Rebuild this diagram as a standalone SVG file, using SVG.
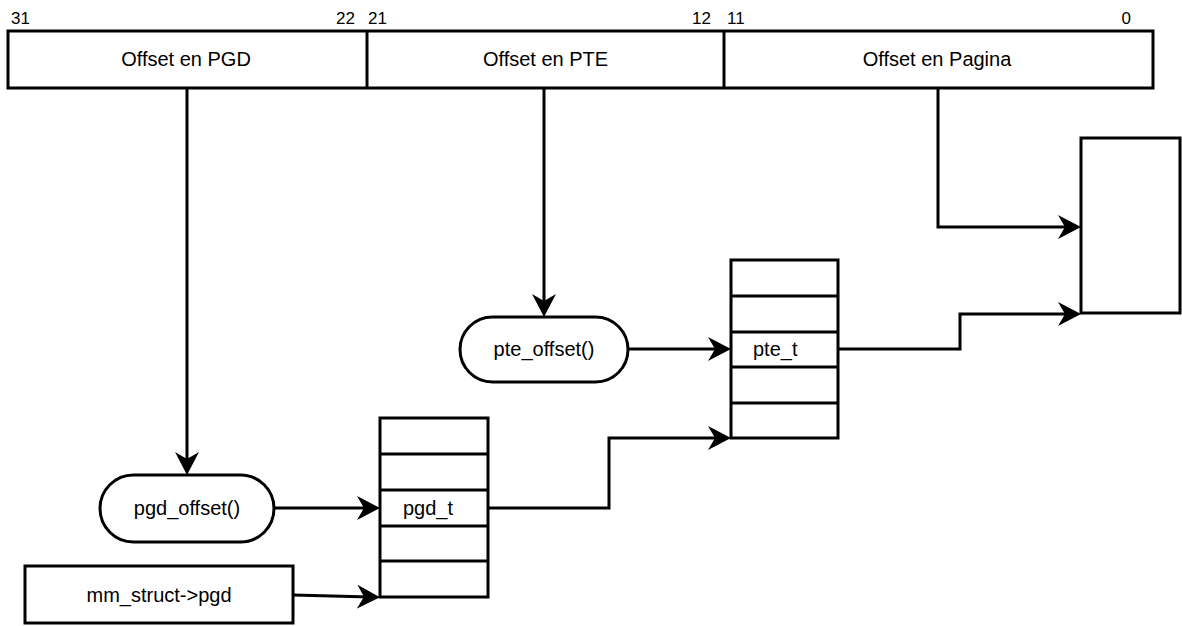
<svg xmlns="http://www.w3.org/2000/svg" width="1182" height="626" viewBox="0 0 1182 626">
  <style>
    .box { fill: #ffffff; stroke: #000000; stroke-width: 3; }
    .sep { fill: none; stroke: #000000; stroke-width: 3; }
    .wire { fill: none; stroke: #000000; stroke-width: 3; }
    .lbl { font-family: "Liberation Sans", Arial, sans-serif; font-size: 20px; fill: #000000; }
    .bit { font-family: "Liberation Sans", Arial, sans-serif; font-size: 17px; fill: #000000; }
  </style>
  <defs>
    <marker id="arrow" viewBox="0 0 23 24" refX="13" refY="12" markerWidth="23" markerHeight="24" markerUnits="userSpaceOnUse" orient="auto">
      <path d="M0,0 L23,12 L0,24 L7,12 Z" fill="#000000"/>
    </marker>
  </defs>

  <rect width="1182" height="626" fill="#ffffff"/>

  <!-- linear address split into three fields -->
  <g id="address">
    <rect class="box" x="8" y="31" width="1145" height="57"/>
    <line class="sep" x1="367" y1="31" x2="367" y2="88"/>
    <line class="sep" x1="724" y1="31" x2="724" y2="88"/>
    <text class="lbl" x="186" y="66" text-anchor="middle">Offset en PGD</text>
    <text class="lbl" x="545.5" y="66" text-anchor="middle">Offset en PTE</text>
    <text class="lbl" x="937" y="66" text-anchor="middle">Offset en Pagina</text>
    <text class="bit" x="11" y="24">31</text>
    <text class="bit" x="355" y="24" text-anchor="end">22</text>
    <text class="bit" x="368" y="24">21</text>
    <text class="bit" x="711" y="24" text-anchor="end">12</text>
    <text class="bit" x="727" y="24">11</text>
    <text class="bit" x="1131" y="24" text-anchor="end">0</text>
  </g>

  <g id="pgd-offset">
    <rect class="box" x="100" y="475" width="174" height="67" rx="33.5" ry="33.5"/>
    <text class="lbl" x="187" y="515" text-anchor="middle">pgd_offset()</text>
  </g>

  <g id="mm-struct">
    <rect class="box" x="25" y="566" width="268" height="57"/>
    <text class="lbl" x="159" y="602" text-anchor="middle">mm_struct-&gt;pgd</text>
  </g>

  <g id="pgd-table">
    <rect class="box" x="380" y="418" width="108" height="179"/>
    <line class="sep" x1="380" y1="454" x2="488" y2="454"/>
    <line class="sep" x1="380" y1="490" x2="488" y2="490"/>
    <line class="sep" x1="380" y1="526" x2="488" y2="526"/>
    <line class="sep" x1="380" y1="561" x2="488" y2="561"/>
    <text class="lbl" x="403" y="515">pgd_t</text>
  </g>

  <g id="pte-offset">
    <rect class="box" x="460" y="317" width="168" height="65" rx="32.5" ry="32.5"/>
    <text class="lbl" x="544" y="356" text-anchor="middle">pte_offset()</text>
  </g>

  <g id="pte-table">
    <rect class="box" x="731" y="260" width="107" height="178"/>
    <line class="sep" x1="731" y1="296" x2="838" y2="296"/>
    <line class="sep" x1="731" y1="332" x2="838" y2="332"/>
    <line class="sep" x1="731" y1="367" x2="838" y2="367"/>
    <line class="sep" x1="731" y1="403" x2="838" y2="403"/>
    <text class="lbl" x="753" y="356">pte_t</text>
  </g>

  <g id="page">
    <rect class="box" x="1081" y="138" width="99" height="175"/>
  </g>

  <g id="connectors">
    <path class="wire" d="M187,88 V465" marker-end="url(#arrow)"/>
    <path class="wire" d="M544,88 V307" marker-end="url(#arrow)"/>
    <path class="wire" d="M938,88 V227 H1071" marker-end="url(#arrow)"/>
    <path class="wire" d="M274,508 H370" marker-end="url(#arrow)"/>
    <path class="wire" d="M293,595 L370,597" marker-end="url(#arrow)"/>
    <path class="wire" d="M628,349 H721" marker-end="url(#arrow)"/>
    <path class="wire" d="M488,508 H609 V438 H721" marker-end="url(#arrow)"/>
    <path class="wire" d="M838,349 H960 V314 H1071" marker-end="url(#arrow)"/>
  </g>
</svg>
